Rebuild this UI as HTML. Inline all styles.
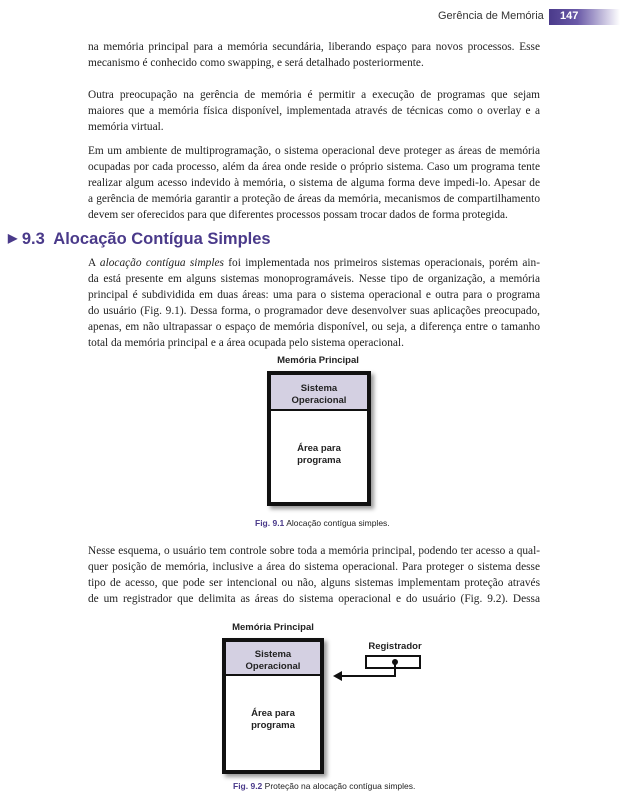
<!DOCTYPE html>
<html><head><meta charset="utf-8"><style>
body{margin:0;width:620px;height:808px;background:#fff;position:relative;overflow:hidden;font-family:"Liberation Serif",serif;color:#222}
.l{position:absolute;left:88px;width:452px;font-size:11.35px;line-height:16px;text-align:justify;text-align-last:justify;white-space:nowrap}
.n{text-align-last:left}
.s{font-family:"Liberation Sans",sans-serif;position:absolute}
.box{position:absolute;border:4px solid #111;box-shadow:3px 3px 4px #999;background:#fff}
.so{position:absolute;left:0;right:0;top:0;background:#d4d0e2;border-bottom:2px solid #111}
.t{font-family:"Liberation Sans",sans-serif;font-weight:bold;font-size:9.5px;text-align:center;line-height:12px;position:absolute;left:0;right:0;color:#222}
.cap{font-family:"Liberation Sans",sans-serif;font-size:8.5px;position:absolute}
.cap b{color:#4a3a8a}
</style></head><body>
<div class="s" style="left:438px;top:10px;font-size:11px;color:#333">Gerência de Memória</div>
<div style="position:absolute;left:549px;top:9px;width:71px;height:16px;background:linear-gradient(90deg,#4a3a8a 0%,#6a5aa8 40%,#fff 100%)"></div>
<div class="s" style="left:560px;top:10px;font-size:11px;color:#fff;font-weight:bold">147</div>

<div class="l" style="top:39px">na memória principal para a memória secundária, liberando espaço para novos processos. Esse</div>
<div class="l n" style="top:55px">mecanismo é conhecido como swapping, e será detalhado posteriormente.</div>

<div class="l" style="top:87px">Outra preocupação na gerência de memória é permitir a execução de programas que sejam</div>
<div class="l" style="top:103px">maiores que a memória física disponível, implementada através de técnicas como o overlay e a</div>
<div class="l n" style="top:119px">memória virtual.</div>

<div class="l" style="top:143px">Em um ambiente de multiprogramação, o sistema operacional deve proteger as áreas de memória</div>
<div class="l" style="top:159px">ocupadas por cada processo, além da área onde reside o próprio sistema. Caso um programa tente</div>
<div class="l" style="top:175px">realizar algum acesso indevido à memória, o sistema de alguma forma deve impedi-lo. Apesar de</div>
<div class="l" style="top:191px">a gerência de memória garantir a proteção de áreas da memória, mecanismos de compartilhamento</div>
<div class="l n" style="top:207px">devem ser oferecidos para que diferentes processos possam trocar dados de forma protegida.</div>

<div class="s" style="left:8px;top:230px;font-size:16.5px;color:#4a3a8a;font-weight:bold"><span style="font-size:12px;position:relative;top:-2px">▶</span> 9.3&nbsp; Alocação Contígua Simples</div>

<div class="l" style="top:255px">A <i>alocação contígua simples</i> foi implementada nos primeiros sistemas operacionais, porém ain-</div>
<div class="l" style="top:271px">da está presente em alguns sistemas monoprogramáveis. Nesse tipo de organização, a memória</div>
<div class="l" style="top:287px">principal é subdividida em duas áreas: uma para o sistema operacional e outra para o programa</div>
<div class="l" style="top:303px">do usuário (Fig. 9.1). Dessa forma, o programador deve desenvolver suas aplicações preocupado,</div>
<div class="l" style="top:319px">apenas, em não ultrapassar o espaço de memória disponível, ou seja, a diferença entre o tamanho</div>
<div class="l n" style="top:335px">total da memória principal e a área ocupada pelo sistema operacional.</div>

<div class="t" style="left:240px;right:auto;width:156px;top:355px">Memória Principal</div>
<div class="box" style="left:267px;top:371px;width:96px;height:127px">
<div class="so" style="height:34px"></div>
<div class="t" style="top:8px">Sistema<br>Operacional</div>
<div class="t" style="top:68px">Área para<br>programa</div>
</div>
<div class="cap" style="left:255px;top:518px"><b>Fig. 9.1</b> Alocação contígua simples.</div>

<div class="l" style="top:543px">Nesse esquema, o usuário tem controle sobre toda a memória principal, podendo ter acesso a qual-</div>
<div class="l" style="top:559px">quer posição de memória, inclusive a área do sistema operacional. Para proteger o sistema desse</div>
<div class="l" style="top:575px">tipo de acesso, que pode ser intencional ou não, alguns sistemas implementam proteção através</div>
<div class="l" style="top:591px">de um registrador que delimita as áreas do sistema operacional e do usuário (Fig. 9.2). Dessa</div>

<div class="t" style="left:195px;right:auto;width:156px;top:622px">Memória Principal</div>
<div class="box" style="left:222px;top:638px;width:94px;height:128px">
<div class="so" style="height:32px"></div>
<div class="t" style="top:7px">Sistema<br>Operacional</div>
<div class="t" style="top:66px">Área para<br>programa</div>
</div>
<div class="t" style="left:355px;right:auto;width:80px;top:641px">Registrador</div>
<div style="position:absolute;left:365px;top:655px;width:56px;height:14px;border:2px solid #111;box-sizing:border-box"></div>
<svg style="position:absolute;left:0;top:0" width="620" height="808">
<circle cx="395" cy="662" r="3" fill="#111"/>
<polyline points="395,662 395,676 340,676" fill="none" stroke="#111" stroke-width="2"/>
<polygon points="333,676 342,671 342,681" fill="#111"/>
</svg>
<div class="cap" style="left:233px;top:781px"><b>Fig. 9.2</b> Proteção na alocação contígua simples.</div>
</body></html>
